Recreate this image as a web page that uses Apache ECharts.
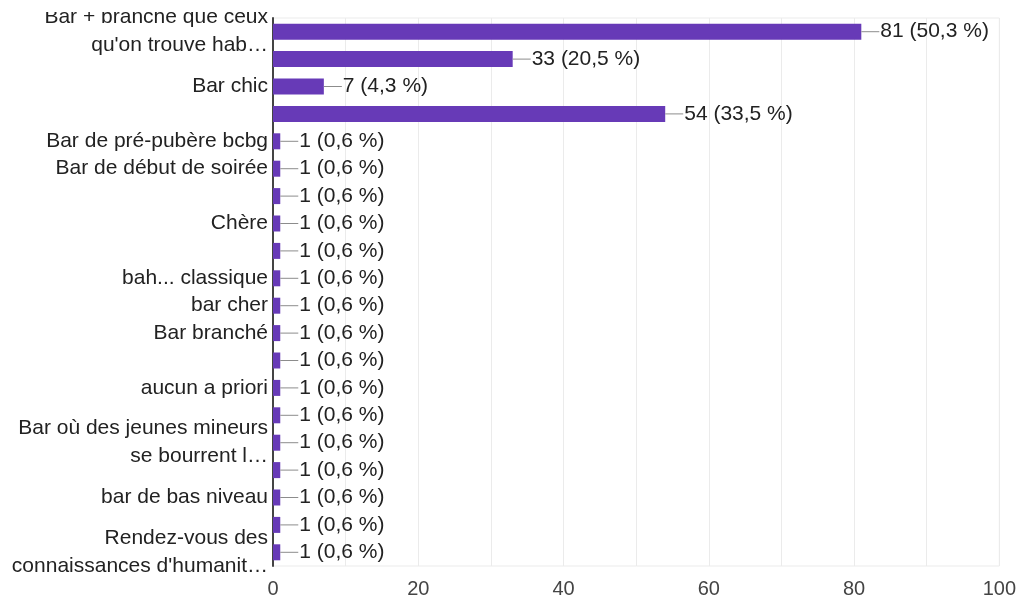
<!DOCTYPE html>
<html>
<head>
<meta charset="utf-8">
<script src="https://cdn.jsdelivr.net/npm/echarts@6/dist/echarts.min.js"></script>
<style>
  html, body { margin: 0; padding: 0; background: #fff; }
  #chart { width: 1019px; height: 599px; }
</style>
</head>
<body>
<div id="chart"></div>
<script>
// row labels, top to bottom ('' = label hidden in the reference)
const categories = [
  'Bar + branché que ceux\nqu\'on trouve hab…',
  '',
  'Bar chic',
  '',
  'Bar de pré-pubère bcbg',
  'Bar de début de soirée',
  '',
  'Chère',
  '',
  'bah... classique',
  'bar cher',
  'Bar branché',
  '',
  'aucun a priori',
  '',
  'Bar où des jeunes mineurs\nse bourrent l…',
  '',
  'bar de bas niveau',
  '',
  'Rendez-vous des\nconnaissances d\'humanit…'
]
const counts = [81, 33, 7, 54, 1, 1, 1, 1, 1, 1, 1, 1, 1, 1, 1, 1, 1, 1, 1, 1]
const percents = ['50,3', '20,5', '4,3', '33,5', '0,6', '0,6', '0,6', '0,6', '0,6', '0,6',
  '0,6', '0,6', '0,6', '0,6', '0,6', '0,6', '0,6', '0,6', '0,6', '0,6']
const xTicks = [0, 20, 40, 60, 80, 100]

const chart = echarts.init(document.getElementById('chart'))
const font = '"Liberation Sans", Arial, sans-serif'

const option = {
  animation: false,
  textStyle: { fontFamily: font },
  grid: {
    left: 273,
    right: 18,
    top: 18,
    bottom: 33,
    show: true,
    borderColor: '#ebebeb',
    borderWidth: 1
  },
  xAxis: {
    type: 'value',
    min: xTicks[0],
    max: xTicks[xTicks.length - 1],
    interval: xTicks[1] - xTicks[0],
    axisLine: { show: false },
    axisTick: { show: false },
    axisLabel: { fontSize: 20, color: '#444', margin: 13, fontFamily: font },
    splitLine: { lineStyle: { color: '#ebebeb' } },
    minorTick: { show: false, splitNumber: 2 },
    minorSplitLine: { show: true, lineStyle: { color: '#ebebeb' } }
  },
  yAxis: {
    type: 'category',
    inverse: true,
    data: categories,
    axisLine: { show: true, lineStyle: { color: '#444', width: 2 } },
    axisTick: { show: false },
    splitLine: { show: false },
    axisLabel: {
      interval: 0,
      fontSize: 21,
      lineHeight: 28,
      color: '#222',
      margin: 5,
      fontFamily: font
    }
  },
  series: [
    {
      type: 'bar',
      data: counts,
      barWidth: 16,
      itemStyle: { color: '#673ab7' },
      label: {
        show: true,
        position: 'right',
        distance: 0,
        formatter: p => '{l|}{t|' + p.value + ' (' + percents[p.dataIndex] + ' %)}',
        rich: {
          l: { width: 18, height: 1, backgroundColor: '#8c8c8c' },
          t: { fontSize: 21, color: '#222', fontFamily: font, padding: [0, 0, 0, 1] }
        }
      }
    }
  ],
  graphic: [
    {
      type: 'rect',
      left: 0,
      top: 0,
      z: 100,
      shape: { width: 272, height: 12 },
      style: { fill: '#fff' }
    }
  ]
}

chart.setOption(option)
window.addEventListener('resize', () => chart.resize())
</script>
</body>
</html>
